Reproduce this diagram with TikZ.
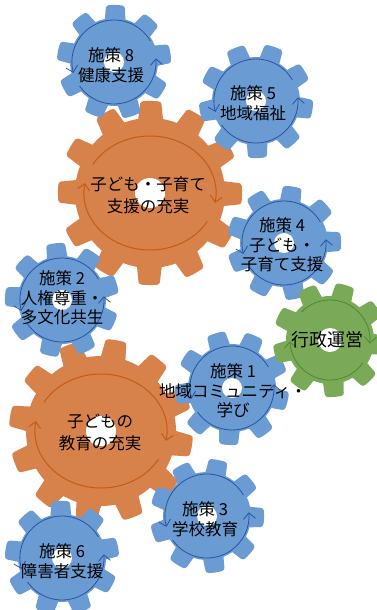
\documentclass[tikz,border=0pt]{standalone}
\usepackage{fontspec}
\setmainfont{Noto Sans CJK JP}
\usetikzlibrary{arrows.meta}

\definecolor{cogblue}{RGB}{106,155,211}
\definecolor{cogorange}{RGB}{215,129,75}
\definecolor{coggreen}{RGB}{122,170,88}
\definecolor{spinblue}{RGB}{38,84,165}
\definecolor{spinorange}{RGB}{196,92,22}
\definecolor{spingreen}{RGB}{76,138,46}

% cog outline: teeth, root radius, tip radius, gap angle, flank angle
\newcommand{\cogpath}[5]{%
	(0:#2)
	\foreach \i [evaluate=\i as \n using (\i-1)*360/#1] in {1,...,#1}{%
		arc (\n:\n+#4:#2) {[rounded corners=2.5pt] -- (\n+#4+#5:#3)
		arc (\n+#4+#5:\n+360/#1-#5:#3)} -- (\n+360/#1:#2)
	} -- cycle
}

\tikzset{
	cogtext/.style={align=center, font=\fontsize{16.5}{19.5}\selectfont},
	bigtext/.style={align=center, font=\fontsize{16.5}{22}\selectfont},
	spin/.style={line width=0.8pt, -{Straight Barb[length=6pt,width=12pt]}},
}

\begin{document}
\begin{tikzpicture}[x=1pt, y=1pt]
	\useasboundingbox (0,0) rectangle (377,-610);
	\clip (0,0) rectangle (377,-610);
	%big cogs
	\foreach \cx/\cy/\rot in {150/-193/9, 101/-431/0}{
		\begin{scope}[shift={(\cx,\cy)}]
			\fill[cogorange, rotate=\rot] \cogpath{12}{75}{92}{11}{3};
			\fill[white] (0,0) circle[radius=15];
			\draw[spin, spinorange, line width=1pt] (150:66 and 57) arc[start angle=150, end angle=-10, x radius=66, y radius=57];
			\draw[spin, spinorange, line width=1pt] (-30:66 and 57) arc[start angle=-30, end angle=-190, x radius=66, y radius=57];
		\end{scope}
	}
	%small cogs
	\foreach \cx/\cy/\rot in {114/-62/22, 256/-101/5, 284/-243/15, 62/-300/30, 232/-388/0, 207/-516/12, 62/-558/25}{
		\begin{scope}[shift={(\cx,\cy)}]
			\fill[cogblue, rotate=\rot] \cogpath{9}{44}{57}{13}{4};
			\fill[white] (0,0) circle[radius=10];
			\draw[spin, spinblue] (30:42) arc[start angle=30, end angle=195, radius=42];
			\draw[spin, spinblue] (215:42) arc[start angle=215, end angle=365, radius=42];
		\end{scope}
	}
	%green cog
	\begin{scope}[shift={(330,-340)}]
		\fill[coggreen, rotate=8] \cogpath{9}{44}{57}{13}{4};
		\fill[white] (0,0) circle[radius=12];
		\draw[spin, spingreen] (135:40) arc[start angle=135, end angle=-5, radius=40];
		\draw[spin, spingreen] (-35:40) arc[start angle=-35, end angle=-178, radius=40];
	\end{scope}
	%labels
	\node[bigtext] (kosodate) at (148,-195) {子ども・子育て\\支援の充実};
	\node[bigtext] (kyoiku) at (100,-432) {子どもの\\教育の充実};
	\node[cogtext] (s8) at (111,-65) {施策 8\\健康支援};
	\node[cogtext] (s5) at (253,-103) {施策 5\\地域福祉};
	\node[cogtext] (s4) at (282,-245) {施策 4\\子ども・\\子育て支援};
	\node[cogtext] (s2) at (62,-298) {施策 2\\人権尊重・\\多文化共生};
	\node[cogtext] (s1) at (233,-391) {施策 1\\地域コミュニティ・\\学び};
	\node[cogtext] (s3) at (205,-519) {施策 3\\学校教育};
	\node[cogtext] (s6) at (62,-561) {施策 6\\障害者支援};
	\node[font=\fontsize{18}{20}\selectfont] (gyosei) at (327,-340) {行政運営};
\end{tikzpicture}
\end{document}
